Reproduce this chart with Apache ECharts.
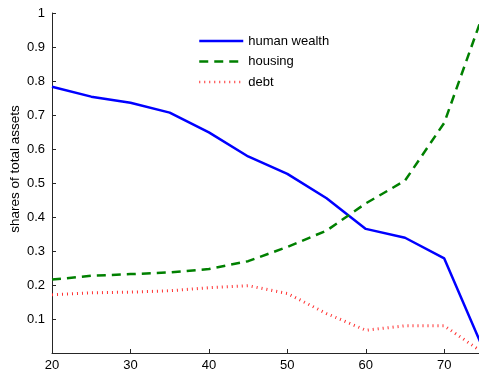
<!DOCTYPE html>
<html>
<head>
<meta charset="utf-8">
<script src="https://cdn.jsdelivr.net/npm/echarts@6/dist/echarts.min.js"></script>
<style>html,body{margin:0;padding:0;background:#fff;}#c{width:479px;height:377px;}</style>
</head>
<body>
<div id="c"></div>
<script>
const ages = [20, 25, 30, 35, 40, 45, 50, 55, 60, 65, 70, 75];
const humanWealth = [0.783, 0.754, 0.736, 0.707, 0.649, 0.578, 0.527, 0.455, 0.365, 0.339, 0.278, 0.01];
const housing = [0.216, 0.227, 0.232, 0.237, 0.247, 0.27, 0.312, 0.36, 0.44, 0.507, 0.677, 1.0];
const debt = [0.171, 0.177, 0.179, 0.183, 0.192, 0.198, 0.175, 0.116, 0.067, 0.08, 0.08, 0.0];
const seriesNames = ['human wealth', 'housing', 'debt'];
const yTitle = 'shares of total assets';

const font = 'Liberation Sans, Arial, Helvetica, sans-serif';
const axisColor = '#262626';
const pair = arr => ages.map((a, i) => [a, arr[i]]);

const chart = echarts.init(document.getElementById('c'), null, {renderer: 'canvas'});
chart.setOption({
  animation: false,
  backgroundColor: '#fff',
  grid: {left: 52, right: 0, top: 13, bottom: 24, containLabel: false},
  legend: {
    orient: 'vertical', left: 198, top: 34.5, padding: 0,
    itemWidth: 44, itemHeight: 14, itemGap: 7.5,
    itemStyle: {opacity: 0},
    lineStyle: {width: 2.5},
    textStyle: {fontFamily: font, fontSize: 13, color: '#000'},
    data: seriesNames
  },
  xAxis: {
    type: 'value', min: 20, max: 74.43, interval: 10,
    axisLine: {show: true, lineStyle: {color: axisColor, width: 1}},
    axisTick: {show: true, inside: true, length: 4, lineStyle: {color: axisColor}},
    axisLabel: {fontFamily: font, fontSize: 13, color: '#000', margin: 6, showMaxLabel: false},
    splitLine: {show: false}
  },
  yAxis: {
    type: 'value', min: 0, max: 1, interval: 0.1,
    axisLine: {show: true, lineStyle: {color: axisColor, width: 1}},
    axisTick: {show: true, inside: true, length: 4, lineStyle: {color: axisColor}},
    axisLabel: {fontFamily: font, fontSize: 13, color: '#000', margin: 7, showMinLabel: false,
      formatter: v => (Math.round(v * 10) / 10).toString()},
    splitLine: {show: false}
  },
  graphic: [{
    type: 'text', x: 15, y: 169, rotation: Math.PI / 2,
    style: {text: yTitle, font: '13.5px ' + font, fill: '#000', textAlign: 'center', textVerticalAlign: 'middle'}
  }],
  series: [
    {name: seriesNames[0], type: 'line', data: pair(humanWealth), symbol: 'none', clip: false,
      lineStyle: {color: '#0000ff', width: 2.5, type: 'solid'}, itemStyle: {color: '#0000ff'}},
    {name: seriesNames[1], type: 'line', data: pair(housing), symbol: 'none', clip: false,
      lineStyle: {color: '#008000', width: 2.5, type: [9, 6]}, itemStyle: {color: '#008000'}},
    {name: seriesNames[2], type: 'line', data: pair(debt), symbol: 'none', clip: false,
      lineStyle: {color: '#ff3030', width: 3, type: [1, 4]}, itemStyle: {color: '#ff3030'}}
  ]
});
</script>
</body>
</html>
